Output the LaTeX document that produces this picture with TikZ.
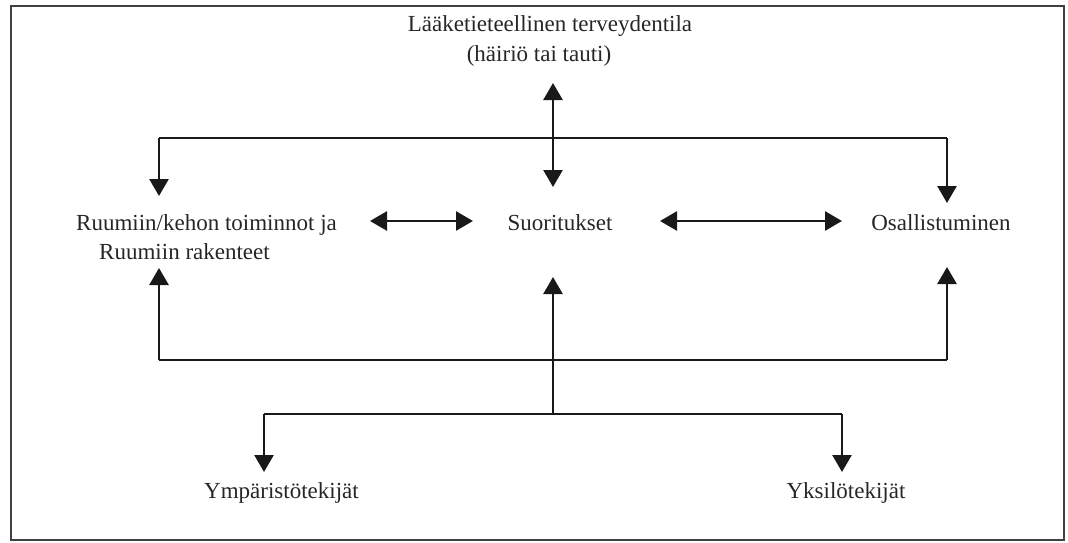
\documentclass[tikz,border=0pt]{standalone}
\usepackage{fontspec}
\setmainfont{Liberation Serif}
\usetikzlibrary{arrows.meta}
\tikzset{
  lbl/.style={anchor=base, inner sep=0pt, text=black!85, font=\fontsize{23}{28}\selectfont},
  conn/.style={line width=1.8pt, draw=black!90},
  arr/.style={line width=2.6pt, draw=black!90, -{Triangle[width=19pt,length=17pt]}},
  dblarr/.style={line width=2.6pt, draw=black!90, {Triangle[width=19pt,length=17pt]}-{Triangle[width=19pt,length=17pt]}},
  frame/.style={line width=1.8pt, draw=black!75}
}
\begin{document}
\begin{tikzpicture}[x=1pt,y=-1pt]
\useasboundingbox (0,0) rectangle (1068,543);
\draw[frame] (11,6) rectangle (1064,540);

% text nodes
\node[lbl] (med1) at (550,32) {Lääketieteellinen terveydentila};
\node[lbl] (med2) at (539,62) {(häiriö tai tauti)};
\node[lbl] (ruu1) at (206.5,230) {Ruumiin/kehon toiminnot ja};
\node[lbl] (ruu2) at (184.5,259) {Ruumiin rakenteet};
\node[lbl] (suo) at (560,230) {Suoritukset};
\node[lbl] (osa) at (941,230) {Osallistuminen};
\node[lbl] (ymp) at (281.5,498) {Ympäristötekijät};
\node[lbl] (yks) at (846,498) {Yksilötekijät};

% named coordinates
\coordinate (mt) at (553,83);
\coordinate (mb) at (553,187);
\coordinate (tl) at (159,138);
\coordinate (tr) at (947,138);
\coordinate (tla) at (159,196);
\coordinate (tra) at (947,203);
\coordinate (bl) at (159,360);
\coordinate (br) at (947,360);
\coordinate (bla) at (159,268);
\coordinate (bra) at (947,267);
\coordinate (cb) at (553,414);
\coordinate (ct) at (553,277);
\coordinate (yl) at (264,414);
\coordinate (yr) at (842,414);
\coordinate (yla) at (264,472);
\coordinate (yra) at (842,472);
\coordinate (hl1) at (370,221);
\coordinate (hl2) at (473,221);
\coordinate (hr1) at (660,221);
\coordinate (hr2) at (842,221);

% connectors
\draw[dblarr] (mt) -- (mb);
\draw[conn] (tl) -- (tr);
\draw[arr] (tl) -- (tla);
\draw[arr] (tr) -- (tra);
\draw[dblarr] (hl1) -- (hl2);
\draw[dblarr] (hr1) -- (hr2);
\draw[conn] (bl) -- (br);
\draw[arr] (bl) -- (bla);
\draw[arr] (br) -- (bra);
\draw[arr] (cb) -- (ct);
\draw[conn] (yl) -- (yr);
\draw[arr] (yl) -- (yla);
\draw[arr] (yr) -- (yra);
\end{tikzpicture}
\end{document}
